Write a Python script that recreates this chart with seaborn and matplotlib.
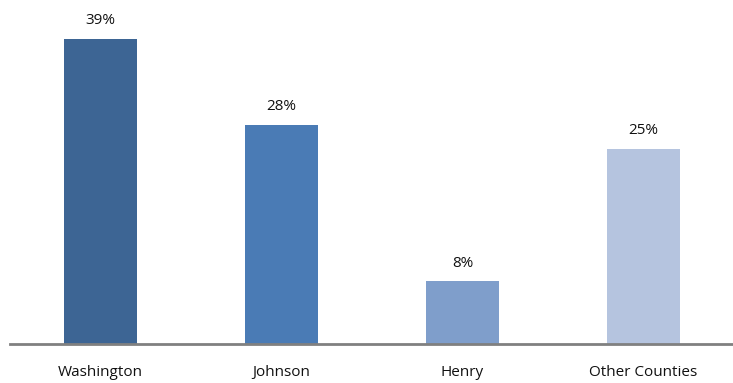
import matplotlib
matplotlib.use("Agg")
import matplotlib.pyplot as plt
import seaborn as sns
import pandas as pd

categories = ["Washington", "Johnson", "Henry", "Other Counties"]
values = [39, 28, 8, 25]
labels = ["39%", "28%", "8%", "25%"]
colors = ["#3d6594", "#4a7bb5", "#7f9ecb", "#b5c4df"]

sns.set_theme(style="white")
plt.rcParams['font.family'] = ['Open Sans', 'DejaVu Sans']

df = pd.DataFrame({"cat": categories, "val": values})

fig = plt.figure(figsize=(7.33, 3.83), dpi=100)
ax = fig.add_axes([10/733, 39/383, 724/733, 344/383])
sns.barplot(data=df, x="cat", y="val", hue="cat", palette=colors, width=0.40,
            dodge=False, legend=False, ax=ax, saturation=1, linewidth=0)
ax.set_xlim(-0.5, 3.5)
ax.set_ylim(0, 44)
for i, (v, lab) in enumerate(zip(values, labels)):
    ax.text(i, v + 1.4, lab, ha="center", va="bottom", fontsize=11, color="#111111")
for s in ["top", "right", "left"]:
    ax.spines[s].set_visible(False)
ax.spines["bottom"].set_color("#808080")
ax.spines["bottom"].set_linewidth(2)
ax.set_yticks([])
ax.set_xlabel("")
ax.set_ylabel("")
ax.tick_params(axis="x", length=0, pad=15, labelsize=11, labelcolor="#111111")
fig.savefig("out.png", dpi=100)
